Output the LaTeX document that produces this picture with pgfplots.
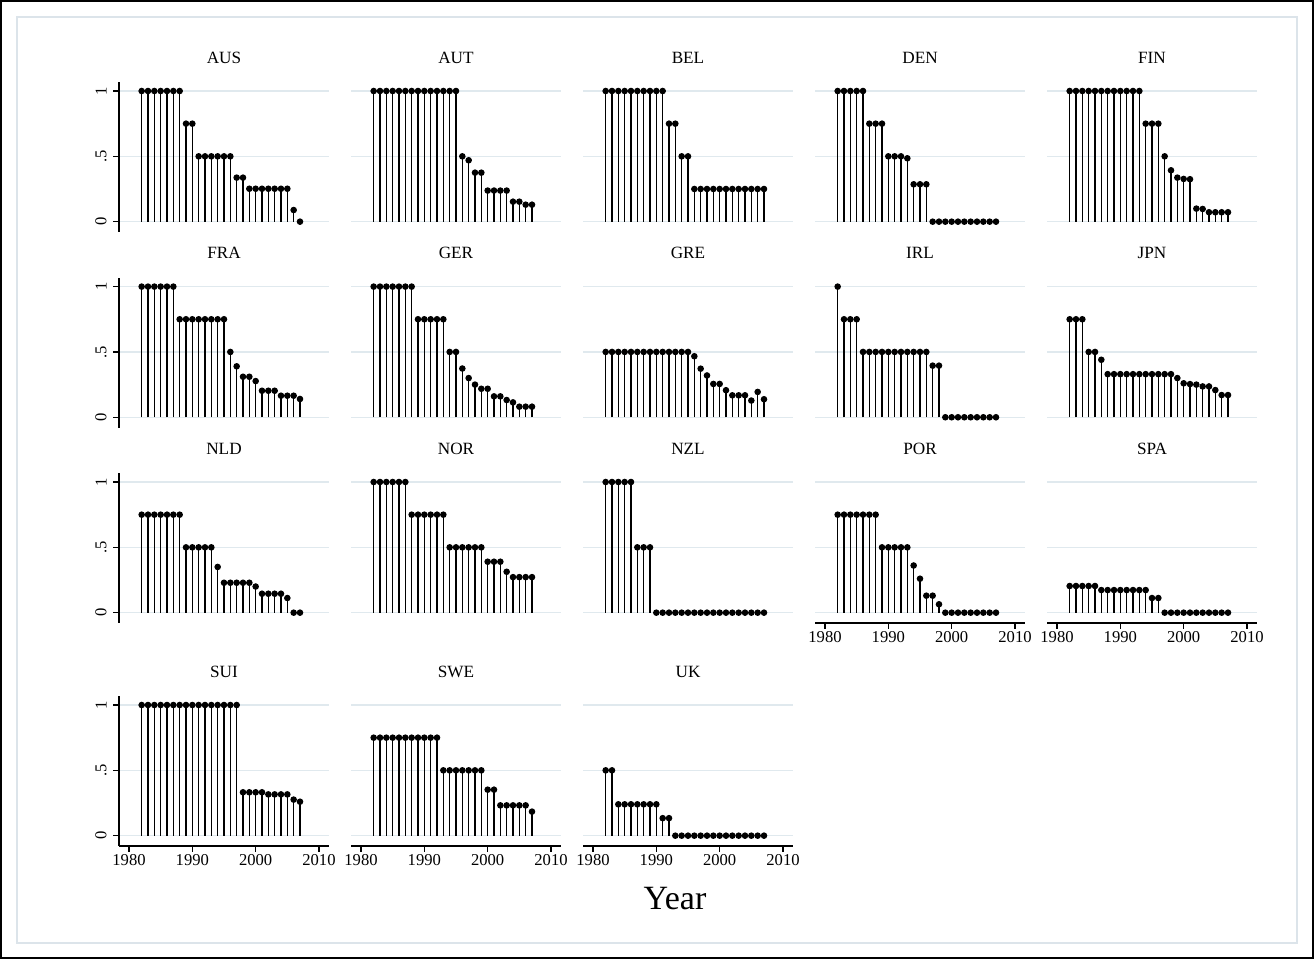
\documentclass[border=0pt]{standalone}
\usepackage{fontspec}
\setmainfont{Liberation Serif}
\usepackage{pgfplots}
\pgfplotsset{compat=1.18}
\definecolor{gridc}{RGB}{224,233,238}
\definecolor{framec}{RGB}{220,228,234}
\pgfplotsset{
  panel/.style={scale only axis, width=105pt, height=75pt, anchor=south west,
    xmin=1978.42, xmax=2011.58, ymin=-0.079, ymax=1.069,
    axis lines=left, axis line style={-, line width=0.6pt, black},
    xtick={1980,1990,2000,2010},
    ytick={0,0.5,1},
    tick align=outside, major tick length=2.8pt,
    tick style={line width=0.6pt, black},
    ymajorgrids, grid style={gridc, line width=0.7pt},
    title style={at={(0.5,1)}, anchor=base, yshift=3.3pt, inner sep=0pt, font=\fontsize{8.6}{10}\selectfont},
    ticklabel style={font=\fontsize{8.3}{9}\selectfont},
    xticklabel style={anchor=north, inner sep=0pt},
    yticklabel style={rotate=90, anchor=south, inner sep=0pt},
    xticklabel shift=1.2pt, yticklabel shift=3.2pt,
    clip=false},
  withy/.style={yticklabels={0,.5,1}},
  noy/.style={yticklabels={,,}, y axis line style={draw=none}, ytick style={draw=none}},
  withx/.style={xticklabels={1980,1990,2000,2010}},
  nox/.style={xticklabels={,,,}, x axis line style={draw=none}, xtick style={draw=none}},
  stem/.style={ycomb, black, line width=0.55pt, mark=*, mark size=1.35pt, mark options={fill=black, solid}},
}
\newcommand{\panel}[5]{%
  \begin{axis}[panel, at={(#1pt,#2pt)}, title={#3}, #4]
    \addplot[stem] coordinates {#5};
  \end{axis}}
\begin{document}
\begin{tikzpicture}
\useasboundingbox (0,0) rectangle (657pt,479.5pt);
\fill[white] (0,0) rectangle (657pt,479.5pt);
\draw[black, line width=0.8pt] (0.4pt,0.4pt) rectangle (656.6pt,479.1pt);
\draw[framec, line width=0.6pt] (8.5pt,8pt) rectangle (648.5pt,471pt);
% Row 1
\panel{59.5}{363.5}{AUS}{nox,withy}{(1982,1)(1983,1)(1984,1)(1985,1)(1986,1)(1987,1)(1988,1)(1989,.75)(1990,.75)(1991,.5)(1992,.5)(1993,.5)(1994,.5)(1995,.5)(1996,.5)(1997,.337)(1998,.337)(1999,.252)(2000,.252)(2001,.252)(2002,.252)(2003,.252)(2004,.252)(2005,.252)(2006,.089)(2007,0)}
\panel{175.5}{363.5}{AUT}{nox,noy}{(1982,1)(1983,1)(1984,1)(1985,1)(1986,1)(1987,1)(1988,1)(1989,1)(1990,1)(1991,1)(1992,1)(1993,1)(1994,1)(1995,1)(1996,.5)(1997,.47)(1998,.375)(1999,.375)(2000,.238)(2001,.238)(2002,.238)(2003,.238)(2004,.153)(2005,.153)(2006,.13)(2007,.13)}
\panel{291.5}{363.5}{BEL}{nox,noy}{(1982,1)(1983,1)(1984,1)(1985,1)(1986,1)(1987,1)(1988,1)(1989,1)(1990,1)(1991,1)(1992,.75)(1993,.75)(1994,.5)(1995,.5)(1996,.25)(1997,.25)(1998,.25)(1999,.25)(2000,.25)(2001,.25)(2002,.25)(2003,.25)(2004,.25)(2005,.25)(2006,.25)(2007,.25)}
\panel{407.5}{363.5}{DEN}{nox,noy}{(1982,1)(1983,1)(1984,1)(1985,1)(1986,1)(1987,.75)(1988,.75)(1989,.75)(1990,.5)(1991,.5)(1992,.5)(1993,.485)(1994,.286)(1995,.286)(1996,.286)(1997,0)(1998,0)(1999,0)(2000,0)(2001,0)(2002,0)(2003,0)(2004,0)(2005,0)(2006,0)(2007,0)}
\panel{523.5}{363.5}{FIN}{nox,noy}{(1982,1)(1983,1)(1984,1)(1985,1)(1986,1)(1987,1)(1988,1)(1989,1)(1990,1)(1991,1)(1992,1)(1993,1)(1994,.75)(1995,.75)(1996,.75)(1997,.5)(1998,.393)(1999,.337)(2000,.327)(2001,.325)(2002,.1)(2003,.097)(2004,.072)(2005,.072)(2006,.072)(2007,.072)}
% Row 2
\panel{59.5}{265.7}{FRA}{nox,withy}{(1982,1)(1983,1)(1984,1)(1985,1)(1986,1)(1987,1)(1988,.75)(1989,.75)(1990,.75)(1991,.75)(1992,.75)(1993,.75)(1994,.75)(1995,.75)(1996,.5)(1997,.39)(1998,.31)(1999,.31)(2000,.277)(2001,.203)(2002,.203)(2003,.203)(2004,.165)(2005,.165)(2006,.165)(2007,.14)}
\panel{175.5}{265.7}{GER}{nox,noy}{(1982,1)(1983,1)(1984,1)(1985,1)(1986,1)(1987,1)(1988,1)(1989,.75)(1990,.75)(1991,.75)(1992,.75)(1993,.75)(1994,.5)(1995,.5)(1996,.373)(1997,.3)(1998,.25)(1999,.218)(2000,.218)(2001,.16)(2002,.16)(2003,.132)(2004,.114)(2005,.081)(2006,.081)(2007,.081)}
\panel{291.5}{265.7}{GRE}{nox,noy}{(1982,.5)(1983,.5)(1984,.5)(1985,.5)(1986,.5)(1987,.5)(1988,.5)(1989,.5)(1990,.5)(1991,.5)(1992,.5)(1993,.5)(1994,.5)(1995,.5)(1996,.467)(1997,.372)(1998,.32)(1999,.255)(2000,.255)(2001,.207)(2002,.168)(2003,.168)(2004,.168)(2005,.128)(2006,.194)(2007,.138)}
\panel{407.5}{265.7}{IRL}{nox,noy}{(1982,1)(1983,.75)(1984,.75)(1985,.75)(1986,.5)(1987,.5)(1988,.5)(1989,.5)(1990,.5)(1991,.5)(1992,.5)(1993,.5)(1994,.5)(1995,.5)(1996,.5)(1997,.395)(1998,.395)(1999,0)(2000,0)(2001,0)(2002,0)(2003,0)(2004,0)(2005,0)(2006,0)(2007,0)}
\panel{523.5}{265.7}{JPN}{nox,noy}{(1982,.75)(1983,.75)(1984,.75)(1985,.5)(1986,.5)(1987,.44)(1988,.33)(1989,.33)(1990,.33)(1991,.33)(1992,.33)(1993,.33)(1994,.33)(1995,.33)(1996,.33)(1997,.33)(1998,.33)(1999,.3)(2000,.26)(2001,.254)(2002,.25)(2003,.236)(2004,.236)(2005,.208)(2006,.17)(2007,.17)}
% Row 3
\panel{59.5}{168}{NLD}{nox,withy}{(1982,.75)(1983,.75)(1984,.75)(1985,.75)(1986,.75)(1987,.75)(1988,.75)(1989,.5)(1990,.5)(1991,.5)(1992,.5)(1993,.5)(1994,.35)(1995,.229)(1996,.229)(1997,.229)(1998,.229)(1999,.229)(2000,.2)(2001,.145)(2002,.145)(2003,.145)(2004,.145)(2005,.112)(2006,0)(2007,0)}
\panel{175.5}{168}{NOR}{nox,noy}{(1982,1)(1983,1)(1984,1)(1985,1)(1986,1)(1987,1)(1988,.75)(1989,.75)(1990,.75)(1991,.75)(1992,.75)(1993,.75)(1994,.5)(1995,.5)(1996,.5)(1997,.5)(1998,.5)(1999,.5)(2000,.39)(2001,.39)(2002,.39)(2003,.313)(2004,.272)(2005,.272)(2006,.272)(2007,.272)}
\panel{291.5}{168}{NZL}{nox,noy}{(1982,1)(1983,1)(1984,1)(1985,1)(1986,1)(1987,.5)(1988,.5)(1989,.5)(1990,0)(1991,0)(1992,0)(1993,0)(1994,0)(1995,0)(1996,0)(1997,0)(1998,0)(1999,0)(2000,0)(2001,0)(2002,0)(2003,0)(2004,0)(2005,0)(2006,0)(2007,0)}
\panel{407.5}{168}{POR}{withx,noy}{(1982,.75)(1983,.75)(1984,.75)(1985,.75)(1986,.75)(1987,.75)(1988,.75)(1989,.5)(1990,.5)(1991,.5)(1992,.5)(1993,.5)(1994,.361)(1995,.26)(1996,.13)(1997,.13)(1998,.064)(1999,0)(2000,0)(2001,0)(2002,0)(2003,0)(2004,0)(2005,0)(2006,0)(2007,0)}
\panel{523.5}{168}{SPA}{withx,noy}{(1982,.204)(1983,.204)(1984,.204)(1985,.204)(1986,.204)(1987,.173)(1988,.173)(1989,.173)(1990,.173)(1991,.173)(1992,.173)(1993,.173)(1994,.173)(1995,.112)(1996,.112)(1997,0)(1998,0)(1999,0)(2000,0)(2001,0)(2002,0)(2003,0)(2004,0)(2005,0)(2006,0)(2007,0)}
% Row 4
\panel{59.5}{56.5}{SUI}{withx,withy}{(1982,1)(1983,1)(1984,1)(1985,1)(1986,1)(1987,1)(1988,1)(1989,1)(1990,1)(1991,1)(1992,1)(1993,1)(1994,1)(1995,1)(1996,1)(1997,1)(1998,.332)(1999,.332)(2000,.332)(2001,.332)(2002,.316)(2003,.316)(2004,.316)(2005,.316)(2006,.276)(2007,.26)}
\panel{175.5}{56.5}{SWE}{withx,noy}{(1982,.75)(1983,.75)(1984,.75)(1985,.75)(1986,.75)(1987,.75)(1988,.75)(1989,.75)(1990,.75)(1991,.75)(1992,.75)(1993,.5)(1994,.5)(1995,.5)(1996,.5)(1997,.5)(1998,.5)(1999,.5)(2000,.352)(2001,.352)(2002,.232)(2003,.232)(2004,.232)(2005,.232)(2006,.232)(2007,.184)}
\panel{291.5}{56.5}{UK}{withx,noy}{(1982,.5)(1983,.5)(1984,.24)(1985,.24)(1986,.24)(1987,.24)(1988,.24)(1989,.24)(1990,.24)(1991,.134)(1992,.134)(1993,0)(1994,0)(1995,0)(1996,0)(1997,0)(1998,0)(1999,0)(2000,0)(2001,0)(2002,0)(2003,0)(2004,0)(2005,0)(2006,0)(2007,0)}
\node[anchor=base, font=\fontsize{17}{20}\selectfont] at (337.5pt,24.5pt) {Year};
\end{tikzpicture}
\end{document}
